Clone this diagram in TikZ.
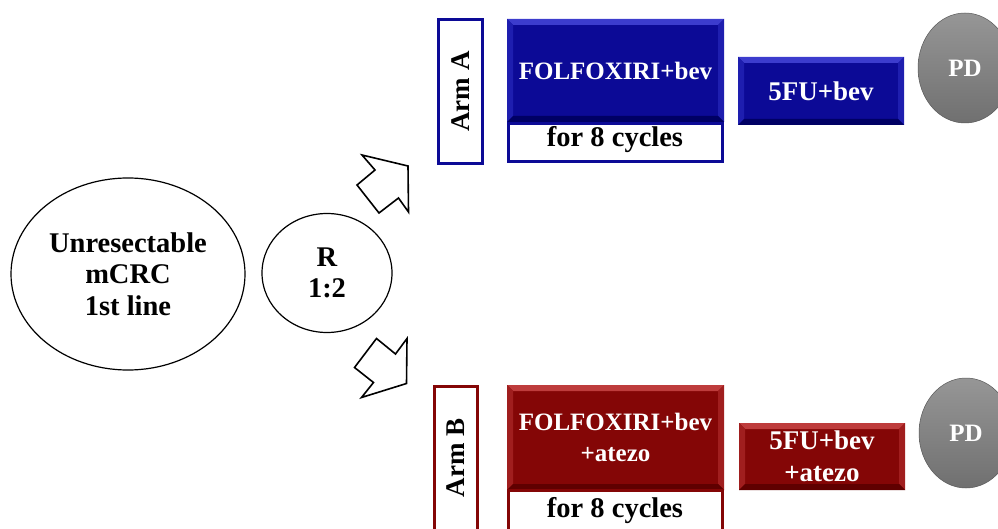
\documentclass[tikz,border=0pt]{standalone}
\usepackage{fontspec}
\setmainfont{Liberation Serif}
\usetikzlibrary{shapes.geometric,calc}
\definecolor{armblue}{RGB}{12,10,150}
\definecolor{blueL}{RGB}{60,60,205}
\definecolor{blueS}{RGB}{30,30,175}
\definecolor{blueD}{RGB}{0,0,100}
\definecolor{armred}{RGB}{132,6,6}
\definecolor{redL}{RGB}{190,60,60}
\definecolor{redS}{RGB}{160,30,30}
\definecolor{redD}{RGB}{95,0,0}
\definecolor{pdgray}{RGB}{125,125,125}
\newcommand\bevelon[4]{%
  \fill[#2] (#1.north west) -- (#1.north east) -- ($(#1.north east)+(-6,6)$) -- ($(#1.north west)+(6,6)$) -- cycle;
  \fill[#3] (#1.north west) -- ($(#1.north west)+(6,6)$) -- ($(#1.south west)+(6,-6)$) -- (#1.south west) -- cycle;
  \fill[#3] (#1.north east) -- ($(#1.north east)+(-6,6)$) -- ($(#1.south east)+(-6,-6)$) -- (#1.south east) -- cycle;
  \fill[#4] (#1.south west) -- (#1.south east) -- ($(#1.south east)+(-6,-6)$) -- ($(#1.south west)+(6,-6)$) -- cycle;
}
\tikzset{
  txt/.style={font=\bfseries\fontsize{27}{31.5}\selectfont, align=center},
  bigtxt/.style={font=\bfseries\fontsize{28.5}{31.5}\selectfont, align=center},
  foltxt/.style={font=\bfseries\fontsize{25}{31.5}\selectfont, align=center},
  drugA/.style={rectangle, fill=armblue, inner sep=0pt, outer sep=0pt, text=white, txt},
  drugB/.style={rectangle, fill=armred, inner sep=0pt, outer sep=0pt, text=white, txt},
  cycA/.style={rectangle, draw=armblue, line width=3pt, fill=white, inner sep=0pt, bigtxt},
  cycB/.style={rectangle, draw=armred, line width=3pt, fill=white, inner sep=0pt, bigtxt},
  armbox/.style={rectangle, line width=3pt, fill=white, inner sep=0pt},
  pd/.style={ellipse, minimum width=94pt, minimum height=110pt, inner sep=0pt, draw=gray!70!black, line width=0.5pt,
             top color={rgb,255:red,150;green,150;blue,150}, bottom color={rgb,255:red,112;green,112;blue,112},
             text=white, font=\bfseries\fontsize{25}{30}\selectfont},
  oval/.style={ellipse, draw=black, line width=1.2pt, inner sep=0pt, bigtxt},
  blockarrow/.style={draw=black, line width=1.6pt, fill=white, line join=miter}
}
\begin{document}
\begin{tikzpicture}[x=1pt, y=-1pt]
\useasboundingbox (0,0) rectangle (998,529);
\clip (0,0) rectangle (998,529);
% left ovals
\node[oval, minimum width=234pt, minimum height=192pt] (pop) at (128,274) {Unresectable\\mCRC\\1st line};
\node[oval, minimum width=130pt, minimum height=119pt] (rand) at (327,273) {R\\1:2};
% block arrows
\draw[blockarrow] (362,155) -- (408,166) -- (408.5,212) -- (398.5,198) -- (379,213) -- (357,185) -- (375,170) -- cycle;
\draw[blockarrow] (376.5,338.5) -- (395.5,354) -- (407,338.5) -- (406.5,383.5) -- (361.5,397.5) -- (373.5,382.5) -- (354.5,367.5) -- cycle;
% Arm A
\node[armbox, draw=armblue, minimum width=44pt, minimum height=144pt] (armA) at (460.5,91.5) {};
\node[txt, rotate=90] (armAt) at (armA) {Arm A};
\node[drugA, foltxt, minimum width=217pt, minimum height=103pt] (folfA) at (615.5,70.5) {FOLFOXIRI+bev};
\bevelon{folfA}{blueL}{blueS}{blueD}
\node[cycA, minimum width=214pt, minimum height=38pt] (cycA) at (615.5,142.5) {};
\node[bigtxt, anchor=base] (cycAt) at (615,147) {for 8 cycles};
\node[drugA, minimum width=166pt, minimum height=68pt] (fuA) at (821,91) {5FU+bev};
\bevelon{fuA}{blueL}{blueS}{blueD}
\node[pd] (pdA) at (965,68) {PD};
% Arm B
\node[armbox, draw=armred, minimum width=43pt, minimum height=160pt] (armB) at (456,466) {};
\node[txt, rotate=90] (armBt) at (456,458) {Arm B};
\node[drugB, foltxt, minimum width=217pt, minimum height=105pt] (folfB) at (615.5,437.5) {FOLFOXIRI+bev\\+atezo};
\bevelon{folfB}{redL}{redS}{redD}
\node[cycB, minimum width=214pt, minimum height=49pt] (cycB) at (615.5,515) {};
\node[bigtxt, anchor=base] (cycBt) at (615,517) {for 8 cycles};
\node[drugB, minimum width=166pt, minimum height=67pt] (fuB) at (822,456.5) {5FU+bev\\+atezo};
\bevelon{fuB}{redL}{redS}{redD}
\node[pd] (pdB) at (966,433) {PD};
\end{tikzpicture}
\end{document}
